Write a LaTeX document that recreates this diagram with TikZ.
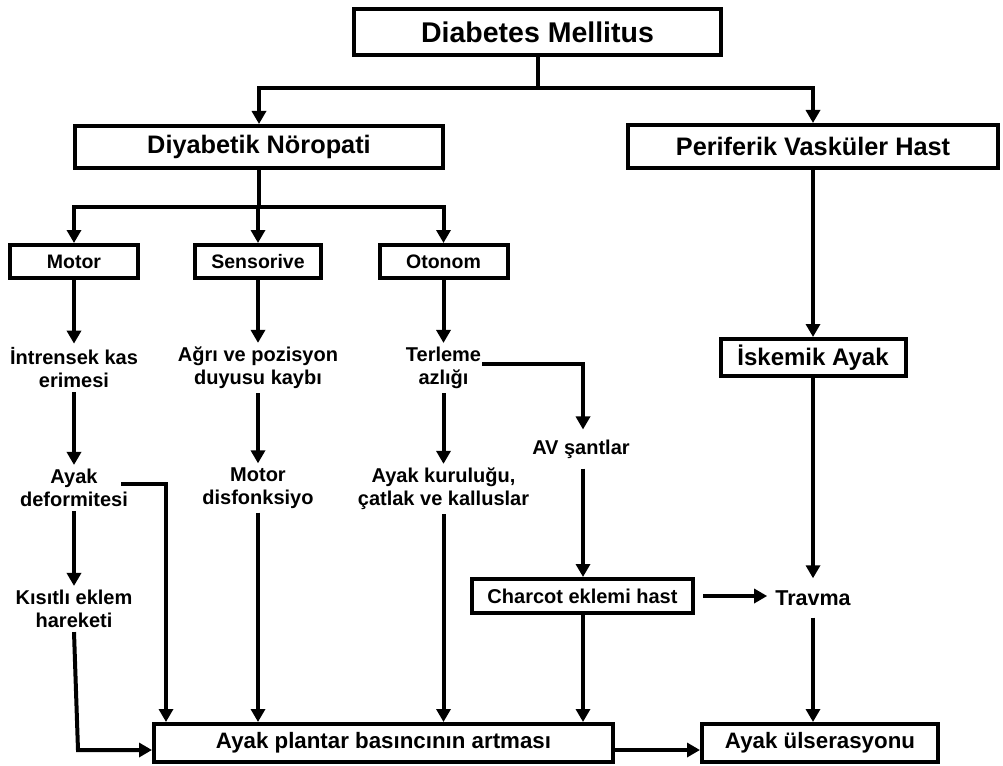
\documentclass[tikz,border=0pt]{standalone}
\usepackage{fontspec}
\setmainfont{Liberation Sans}
\usetikzlibrary{arrows.meta}
\newcommand{\txtsize}[2]{\fontsize{#1}{#2}\selectfont\bfseries}
\begin{document}
\begin{tikzpicture}[x=1pt,y=-1pt,
  box/.style={draw=black, line width=4pt, fill=white, inner sep=0pt, align=center},
  lbl/.style={align=center, inner xsep=2pt, inner ysep=4pt, font=\txtsize{20}{23}},
  link/.style={line width=4pt},
  arr/.style={line width=4pt, -{Triangle[width=14pt,length=13pt]}}]

\useasboundingbox (0,0) rectangle (1003,765);

% framed boxes
\node[box, minimum width=367pt, minimum height=46pt, font=\txtsize{28.5}{30}] (dm) at (537.5,32) {Diabetes Mellitus};
\node[box, minimum width=368pt, minimum height=42pt, font=\txtsize{25.3}{27}] (dn) at (259,147) {Diyabetik Nöropati};
\node[box, minimum width=370pt, minimum height=43pt, font=\txtsize{25.3}{27}] (pv) at (813,146.5) {Periferik Vasküler Hast};
\node[box, minimum width=128pt, minimum height=33pt, font=\txtsize{19.5}{21}] (mo) at (74,261.5) {Motor};
\node[box, minimum width=126pt, minimum height=33pt, font=\txtsize{19.5}{21}] (se) at (258,261.5) {Sensorive};
\node[box, minimum width=128pt, minimum height=33pt, font=\txtsize{19.5}{21}] (ot) at (443.5,261.5) {Otonom};
\node[box, minimum width=185pt, minimum height=37pt, font=\txtsize{24}{26}] (is) at (813,357.5) {İskemik Ayak};
\node[box, minimum width=221pt, minimum height=34pt, font=\txtsize{20}{22}] (ch) at (582.5,596) {Charcot eklemi hast};
\node[box, minimum width=459pt, minimum height=38pt, font=\txtsize{22.3}{24}] (pl) at (383.5,743) {Ayak plantar basıncının artması};
\node[box, minimum width=236pt, minimum height=38pt, font=\txtsize{22.3}{24}] (ul) at (820,743) {Ayak ülserasyonu};

% free-standing labels
\node[lbl] (in) at (74,368) {İntrensek kas\\erimesi};
\node[lbl] (ag) at (258,368) {Ağrı ve pozisyon\\duyusu kaybı};
\node[lbl] (te) at (443.5,368) {Terleme\\azlığı};
\node[lbl] (ad) at (74,488) {Ayak\\deformitesi};
\node[lbl] (md) at (258,488) {Motor\\disfonksiyo};
\node[lbl] (ak) at (443.5,489) {Ayak kuruluğu,\\çatlak ve kalluslar};
\node[lbl] (ki) at (74,609) {Kısıtlı eklem\\hareketi};
\node[lbl, inner ysep=10pt] (av) at (581,449) {AV şantlar};
\node[lbl, font=\txtsize{21.5}{24}, inner xsep=8pt, inner ysep=12pt] (tr) at (813,598) {Travma};

% top split
\coordinate (j1) at (537.5,88);
\draw[link] (dm.south) -- (j1);
\draw[arr] (j1) -| (dn.north);
\draw[arr] (j1) -| (pv.north);

% neuropathy split
\coordinate (j2) at (259,207);
\draw[link] (dn.south) -- (j2);
\draw[arr] (j2) -| (mo.north);
\draw[arr] (j2) -| (se.north);
\draw[arr] (j2) -| (ot.north);

% columns
\draw[arr] (mo.south) -- (in.north);
\draw[arr] (se.south) -- (ag.north);
\draw[arr] (ot.south) -- (te.north);
\draw[arr] (in.south) -- (ad.north);
\draw[arr] (ag.south) -- (md.north);
\draw[arr] (te.south) -- (ak.north);
\draw[arr] (ad.south) -- (ki.north);
\draw[arr] (md.south) -- (md.south |- pl.north);
\draw[arr] (ak.south) -- (ak.south |- pl.north);

% deformity branch
\coordinate (adr) at (121,484);
\coordinate (adk) at (166,484);
\draw[arr] (adr) -- (adk) -- (adk |- pl.north);

% restricted joint motion into the plantar box
\coordinate (kb) at (78,750);
\draw[arr] (ki.south) -- (kb) -- (kb -| pl.west);

% autonomic branch to AV shunts
\coordinate (tb) at (482,364);
\coordinate (tk) at (583,364);
\draw[arr] (tb) -- (tk) -- (tk |- av.north);
\draw[arr] (av.south -| tk) -- (tk |- ch.north);
\draw[arr] (ch.south -| tk) -- (tk |- pl.north);
\draw[arr, shorten <=8pt] (ch.east) -- (ch.east -| tr.west);

% vascular column
\draw[arr] (pv.south) -- (is.north);
\draw[arr] (is.south) -- (tr.north);
\draw[arr] (tr.south) -- (tr.south |- ul.north);

% pressure to ulceration
\draw[arr] ([yshift=-7pt]pl.east) -- ([yshift=-7pt]ul.west);

\end{tikzpicture}
\end{document}
